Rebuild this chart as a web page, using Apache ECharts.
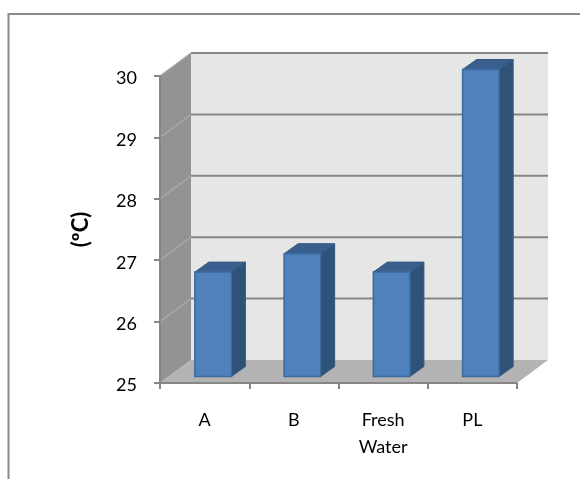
<!DOCTYPE html>
<html>
<head>
<meta charset="utf-8">
<style>
html,body{margin:0;padding:0;background:#fff;}
#main{width:580px;height:479px;}
</style>
<script src="https://cdn.jsdelivr.net/npm/echarts@6/dist/echarts.min.js"></script>
</head>
<body>
<div id="main"></div>
<script>
var categories = ['A', 'B', 'Fresh\nWater', 'PL'];
var temps = [26.7, 27, 26.7, 30];
var yTicks = [26, 27, 28, 29, 30];
var yMin = 25;
var yMax = 30;

// 3d look of the old office chart
var wallDx = 31, wallDy = -23;
var barDx = 8.5, barDy = -6.5;
var sideDx = 14, sideDy = -10;
var barRatio = 0.41;
var lineGrey = '#868686';

function poly(points, fill, stroke, lw) {
    return {
        type: 'polygon',
        shape: {points: points},
        style: {fill: fill, stroke: stroke || null, lineWidth: lw || 0}
    };
}

function renderWalls(params, api) {
    var c = params.coordSys;
    var l = c.x, r = c.x + c.width, t = c.y, b = c.y + c.height;
    return {
        type: 'group',
        children: [
            poly([[l + wallDx, t + wallDy], [r + wallDx, t + wallDy], [r + wallDx, b + wallDy], [l + wallDx, b + wallDy]], '#e6e6e6'),
            poly([[l, t], [l + wallDx, t + wallDy], [l + wallDx, b + wallDy], [l, b]], '#939393'),
            poly([[l, b], [l + wallDx, b + wallDy], [r + wallDx, b + wallDy], [r, b]], '#b3b3b3')
        ]
    };
}

function renderGridline(params, api) {
    var c = params.coordSys;
    var y = api.coord([0, api.value(1)])[1];
    var l = c.x, r = c.x + c.width;
    return {
        type: 'group',
        children: [
            {type: 'line', shape: {x1: l, y1: y, x2: l + wallDx, y2: y + wallDy}, style: {stroke: '#a8a8a8', lineWidth: 1.5}},
            {type: 'line', shape: {x1: l + wallDx, y1: y + wallDy, x2: r + wallDx, y2: y + wallDy}, style: {stroke: lineGrey, lineWidth: 2}}
        ]
    };
}

function renderBar(params, api) {
    var idx = api.value(0);
    var top = api.coord([idx, api.value(1)]);
    var base = api.coord([idx, yMin]);
    var w = api.size([1, 0])[0] * barRatio;
    var x0 = top[0] - w / 2 + barDx, x1 = x0 + w;
    var y0 = top[1] + barDy, y1 = base[1] + barDy;
    return {
        type: 'group',
        children: [
            poly([[x1, y0], [x1 + sideDx, y0 + sideDy], [x1 + sideDx, y1 + sideDy], [x1, y1]], '#2f5279', '#33597f', 1),
            poly([[x0, y0], [x0 + sideDx, y0 + sideDy], [x1 + sideDx, y0 + sideDy], [x1, y0]], '#385f8e', '#33597f', 1),
            poly([[x0, y0], [x1, y0], [x1, y1], [x0, y1]], '#4f81bd', '#3c6a9f', 1.5)
        ]
    };
}

var myChart = echarts.init(document.getElementById('main'), null, {renderer: 'canvas'});
var labelFont = 'Lato';
var option = {
    animation: false,
    backgroundColor: '#fff',
    graphic: [{
        type: 'rect',
        shape: {x: 8.5, y: 14, width: 620, height: 520},
        style: {fill: 'none', stroke: '#8a8a8a', lineWidth: 2},
        z: -1
    }],
    grid: {left: 160, right: 63, top: 76, bottom: 96},
    xAxis: {
        type: 'category',
        data: categories,
        z: 3,
        axisLine: {lineStyle: {color: lineGrey, width: 2}},
        axisTick: {show: true, alignWithLabel: false, length: 6, lineStyle: {color: lineGrey, width: 2}},
        axisLabel: {
            interval: 0,
            margin: 24,
            color: '#000',
            fontFamily: labelFont,
            fontSize: 18,
            lineHeight: 27
        }
    },
    yAxis: {
        type: 'value',
        min: yMin,
        max: yMax,
        interval: 1,
        z: 3,
        name: '(ºC)',
        nameLocation: 'middle',
        nameRotate: 90,
        nameGap: 68,
        nameTextStyle: {color: '#000', fontFamily: labelFont, fontSize: 22, fontWeight: 'bold'},
        splitLine: {show: false},
        axisLine: {show: true, lineStyle: {color: lineGrey, width: 2}},
        axisTick: {show: true, length: 6, lineStyle: {color: lineGrey, width: 2}},
        axisLabel: {
            margin: 23,
            formatter: '{n|{value}}',
            rich: {
                n: {padding: [5, 0, 0, 0], color: '#000', fontFamily: labelFont, fontSize: 18}
            }
        }
    },
    series: [
        {
            type: 'custom',
            z: 0,
            silent: true,
            clip: false,
            renderItem: renderWalls,
            data: [[0, yMin]]
        },
        {
            type: 'custom',
            z: 1,
            silent: true,
            clip: false,
            renderItem: renderGridline,
            data: yTicks.map(function (v) { return [0, v]; })
        },
        {
            type: 'custom',
            z: 4,
            clip: false,
            renderItem: renderBar,
            data: temps.map(function (v, i) { return [i, v]; })
        }
    ]
};
myChart.setOption(option);
</script>
</body>
</html>
